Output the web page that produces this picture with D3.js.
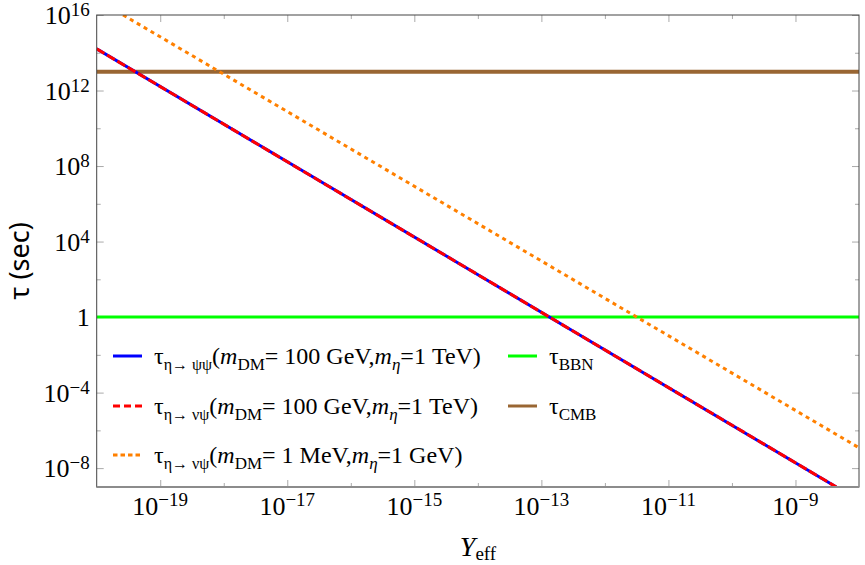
<!DOCTYPE html>
<html>
<head>
<meta charset="utf-8">
<script src="https://cdn.jsdelivr.net/npm/d3@7"></script>
<style>
  body { margin: 0; background: #fff; }
  svg { display: block; }
</style>
</head>
<body>
<svg id="chart" width="865" height="565"></svg>
<script>
// values (log-log straight lines -> endpoints)
const yEffPsiPsi = [1e-20, 4.4e-9];
const tauPsiPsi = [1.6e14, 1e-9];
const yEffNuPsi = [1e-20, 4.4e-9];
const tauNuPsi = [1.6e14, 1e-9];
const yEffMeV = [2.6e-20, 1e-8];
const tauMeV = [1e16, 1.2e-7];
const tauBBN = 1;
const tauCMB = 1e13;

const xDomain = [1e-20, 1e-8];
const yDomain = [1e-9, 1e16];
const xMajorExp = [-19, -17, -15, -13, -11, -9];
const xMinorExp = [-18, -16, -14, -12, -10];
const yMajorExp = [16, 12, 8, 4, 0, -4, -8];
const yMinorExp = [14, 10, 6, 2, -2, -6];

const margin = {top: 15, right: 6, bottom: 78, left: 96.7};
const width = 865 - margin.left - margin.right;
const height = 565 - margin.top - margin.bottom;
const serif = "'Liberation Serif', 'Times New Roman', serif";

const svg = d3.select("#chart");
const g = svg.append("g")
    .attr("transform", `translate(${margin.left},${margin.top})`);

const x = d3.scaleLog().domain(xDomain).range([0, width]);
const y = d3.scaleLog().domain(yDomain).range([height, 0]);

// ticks on all four sides, pointing inward
function tickLines(axisFn, scale, exps, size, transform) {
    const ax = g.append("g")
        .attr("transform", transform)
        .call(axisFn(scale)
            .tickValues(exps.map(e => Math.pow(10, e)))
            .tickSize(size)
            .tickFormat(""));
    ax.select(".domain").remove();
    ax.selectAll(".tick line").attr("stroke", "#aaa").attr("stroke-width", 1);
}
tickLines(d3.axisBottom, x, xMajorExp, -7, `translate(0,${height})`);
tickLines(d3.axisBottom, x, xMinorExp, -4, `translate(0,${height})`);
tickLines(d3.axisTop, x, xMajorExp, -7, "translate(0,0)");
tickLines(d3.axisTop, x, xMinorExp, -4, "translate(0,0)");
tickLines(d3.axisLeft, y, yMajorExp, -7, "translate(0,0)");
tickLines(d3.axisLeft, y, yMinorExp, -4, "translate(0,0)");
tickLines(d3.axisRight, y, yMajorExp, -7, `translate(${width},0)`);
tickLines(d3.axisRight, y, yMinorExp, -4, `translate(${width},0)`);

// tick labels
function powerLabel(sel, e, shift) {
    if (e === 0) { sel.text("1"); return; }
    sel.append("tspan").text("10");
    sel.append("tspan")
        .attr("dy", -shift)
        .style("font-size", "19px")
        .text(String(e).replace("-", "\u2212"));
}

xMajorExp.forEach(e => {
    g.append("text")
        .attr("x", x(Math.pow(10, e)))
        .attr("y", height + 28)
        .attr("text-anchor", "middle")
        .style("font-family", serif)
        .style("font-size", "26px")
        .call(powerLabel, e, 9);
});

yMajorExp.forEach(e => {
    g.append("text")
        .attr("x", -7)
        .attr("y", y(Math.pow(10, e)) + 9)
        .attr("text-anchor", "end")
        .style("font-family", serif)
        .style("font-size", "26px")
        .call(powerLabel, e, 8);
});

// lines
g.append("clipPath").attr("id", "plot-clip")
    .append("rect").attr("width", width).attr("height", height);

const plot = g.append("g").attr("clip-path", "url(#plot-clip)");

const line = d3.line()
    .x(d => x(d[0]))
    .y(d => y(d[1]));

function drawHLine(value, color, w) {
    plot.append("line")
        .attr("x1", 0).attr("x2", width)
        .attr("y1", y(value)).attr("y2", y(value))
        .attr("stroke", color)
        .attr("stroke-width", w);
}
drawHLine(tauBBN, "#00ff00", 3);
drawHLine(tauCMB, "#996633", 4);

plot.append("path")
    .datum(d3.zip(yEffMeV, tauMeV))
    .attr("fill", "none")
    .attr("stroke", "#ff8000")
    .attr("stroke-width", 3)
    .attr("stroke-dasharray", "4,4")
    .attr("d", line);

plot.append("path")
    .datum(d3.zip(yEffPsiPsi, tauPsiPsi))
    .attr("fill", "none")
    .attr("stroke", "#0000ff")
    .attr("stroke-width", 3)
    .attr("d", line);

plot.append("path")
    .datum(d3.zip(yEffNuPsi, tauNuPsi))
    .attr("fill", "none")
    .attr("stroke", "#ff0000")
    .attr("stroke-width", 3)
    .attr("stroke-dasharray", "9,3")
    .attr("d", line);

// frame
g.append("rect")
    .attr("width", width).attr("height", height)
    .attr("fill", "none")
    .attr("stroke", "#444")
    .attr("stroke-width", 1);
g.append("line")
    .attr("x1", 0).attr("x2", width)
    .attr("y1", height).attr("y2", height)
    .attr("stroke", "#8c8c8c")
    .attr("stroke-width", 2);

// axis titles
svg.append("text")
    .attr("transform", "translate(29,261) rotate(-90)")
    .attr("text-anchor", "middle")
    .style("font-family", "'Noto Sans', sans-serif")
    .style("font-size", "27px")
    .text("\u03c4 (sec)");

const xt = svg.append("text")
    .attr("x", 478)
    .attr("y", 556)
    .attr("text-anchor", "middle")
    .style("font-family", serif)
    .style("font-size", "28px");
xt.append("tspan").style("font-style", "italic").text("Y");
xt.append("tspan").attr("dy", 4).style("font-size", "19px").text("eff");

// legend
function richText(sel, parts) {
    let shift = 0;
    parts.forEach(p => {
        const target = p.sub ? 6 : 0;
        const ts = sel.append("tspan")
            .attr("dy", target - shift)
            .style("font-size", p.sub ? (p.size || "17px") : "24px")
            .text(p.t);
        if (p.italic) ts.style("font-style", "italic");
        shift = target;
    });
}

const legendItems = [
    {x: 113, y: 356, color: "#0000ff", dash: null, w: 3, parts: [
        {t: "\u03c4"}, {t: "\u03b7\u2192 \u03c8\u03c8", sub: true, size: "16px"},
        {t: "("}, {t: "m", italic: true}, {t: "DM", sub: true},
        {t: "= 100 GeV,"}, {t: "m", italic: true}, {t: "\u03b7", sub: true, italic: true},
        {t: "=1 TeV)"}]},
    {x: 113, y: 406, color: "#ff0000", dash: "7,4", w: 3, parts: [
        {t: "\u03c4"}, {t: "\u03b7\u2192 \u03bd\u03c8", sub: true, size: "16px"},
        {t: "("}, {t: "m", italic: true}, {t: "DM", sub: true},
        {t: "= 100 GeV,"}, {t: "m", italic: true}, {t: "\u03b7", sub: true, italic: true},
        {t: "=1 TeV)"}]},
    {x: 113, y: 455, color: "#ff8000", dash: "4.5,3", w: 3, parts: [
        {t: "\u03c4"}, {t: "\u03b7\u2192 \u03bd\u03c8", sub: true, size: "16px"},
        {t: "("}, {t: "m", italic: true}, {t: "DM", sub: true},
        {t: "= 1 MeV,"}, {t: "m", italic: true}, {t: "\u03b7", sub: true, italic: true},
        {t: "=1 GeV)"}]},
    {x: 508, y: 356, color: "#00ff00", dash: null, w: 3, parts: [
        {t: "\u03c4"}, {t: "BBN", sub: true}]},
    {x: 508, y: 406, color: "#996633", dash: null, w: 3, parts: [
        {t: "\u03c4"}, {t: "CMB", sub: true}]}
];

legendItems.forEach(item => {
    svg.append("line")
        .attr("x1", item.x).attr("x2", item.x + 29)
        .attr("y1", item.y).attr("y2", item.y)
        .attr("stroke", item.color)
        .attr("stroke-width", item.w)
        .attr("stroke-dasharray", item.dash);
    svg.append("text")
        .attr("x", item.x + 41)
        .attr("y", item.y + 8)
        .style("font-family", serif)
        .call(richText, item.parts);
});
</script>
</body>
</html>
